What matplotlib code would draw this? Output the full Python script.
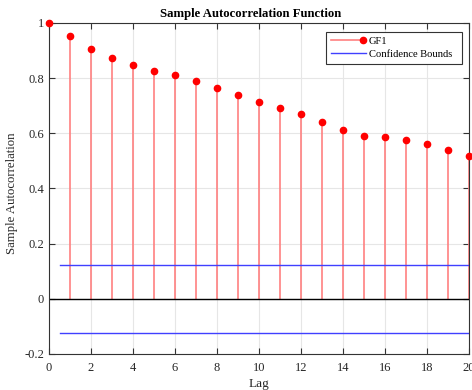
import matplotlib
matplotlib.use("Agg")
import matplotlib.pyplot as plt
from matplotlib.lines import Line2D
from matplotlib.legend_handler import HandlerBase
import numpy as np

lags = list(range(0, 21))
acf = [1.0, 0.953, 0.906, 0.872, 0.847, 0.827, 0.810, 0.790, 0.764, 0.739, 0.714,
       0.691, 0.671, 0.641, 0.612, 0.592, 0.587, 0.577, 0.562, 0.541, 0.519]
conf_bound = 0.123
bound_x = [0.5, 20]
xticks = [0, 2, 4, 6, 8, 10, 12, 14, 16, 18, 20]
yticks = [-0.2, 0, 0.2, 0.4, 0.6, 0.8, 1]
ytick_labels = ["-0.2", "0", "0.2", "0.4", "0.6", "0.8", "1"]

plt.rcParams['font.family'] = ['Liberation Serif', 'DejaVu Serif']

fig = plt.figure(figsize=(4.72, 3.9), dpi=100)
ax = fig.add_axes([49/472, 36/390, 420/472, 331/390])

stem_color = '#ff8080'
ax.vlines(lags, 0, acf, color=stem_color, lw=1.2, zorder=2)
ax.plot(lags, acf, 'o', color='#ff0000', ms=4.5, zorder=3, clip_on=False)
ax.axhline(0, color='black', lw=1.0, zorder=2)
ax.plot(bound_x, [conf_bound, conf_bound], color='#4040ff', lw=1.0, zorder=2)
ax.plot(bound_x, [-conf_bound, -conf_bound], color='#4040ff', lw=1.0, zorder=2)

ax.set_xlim(0, 20)
ax.set_ylim(-0.2, 1)
ax.set_xticks(xticks)
ax.set_yticks(yticks)
ax.set_yticklabels(ytick_labels)
ax.grid(True, color='#e6e6e6', lw=0.8, zorder=0)
ax.set_axisbelow(True)
ax.tick_params(direction='in', top=True, right=True, labelsize=9, length=4,
               color='#333333', labelcolor='#262626')
ax.tick_params(axis='x', pad=6)
for s in ax.spines.values():
    s.set_color('#333333')
    s.set_linewidth(0.8)

ax.set_title('Sample Autocorrelation Function', fontsize=9.2, fontweight='bold',
             pad=4, x=0.479)
ax.set_xlabel('Lag', fontsize=9.5, labelpad=3, color='#262626')
ax.set_ylabel('Sample Autocorrelation', fontsize=9.2, labelpad=3, color='#262626')
ax.yaxis.set_label_coords(-0.074, 0.485)


class StemHandler(HandlerBase):
    def create_artists(self, legend, orig_handle, xdescent, ydescent, width, height, fontsize, trans):
        y = height / 2 - ydescent
        l = Line2D([-xdescent, width - xdescent - 2], [y, y], color=stem_color, lw=1.2)
        m = Line2D([width - xdescent - 2], [y], marker='o', color='#ff0000', ms=4.5, linestyle='none')
        l.set_transform(trans)
        m.set_transform(trans)
        return [l, m]


h1 = Line2D([], [], color=stem_color)
h2 = Line2D([], [], color='#4040ff', lw=1.0)
leg = ax.legend([h1, h2], ['GF1', 'Confidence Bounds'], loc='upper left',
                bbox_to_anchor=(0.6595, 0.5, 0.3238, 0.473), mode='expand',
                borderaxespad=0,
                fontsize=7.6, handler_map={h1: StemHandler()}, fancybox=False,
                edgecolor='#333333', framealpha=1, handlelength=3.3,
                labelspacing=0.35, handletextpad=0.3, borderpad=0.45)
leg.get_frame().set_linewidth(0.8)

fig.savefig('out.png', dpi=100)
